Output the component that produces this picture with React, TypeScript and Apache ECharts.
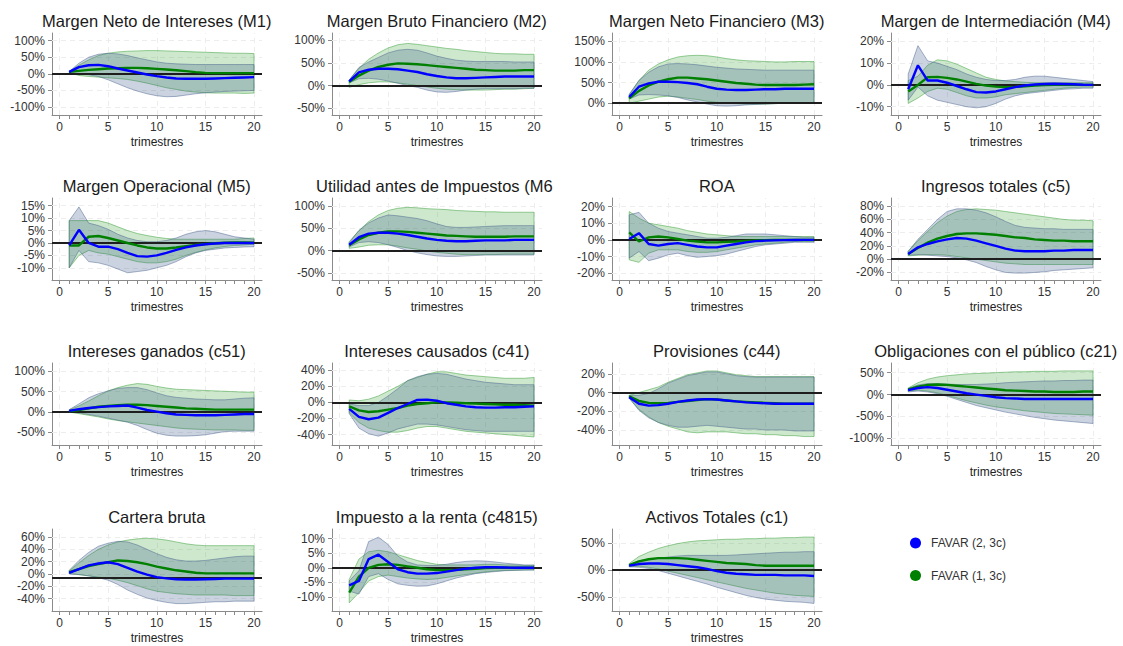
import React, { useEffect, useRef } from "react";
import * as echarts from "echarts";

// ---------- axes ----------
const quarters = [1, 2, 3, 4, 5, 6, 7, 8, 9, 10, 11, 12, 13, 14, 15, 16, 17, 18, 19, 20];
const xTickValues = [0, 1, 2, 3, 4, 5, 6, 7, 8, 9, 10, 11, 12, 13, 14, 15, 16, 17, 18, 19, 20];
const xLabelValues = [0, 5, 10, 15, 20];

// ---------- data (b = FAVAR (2, 3c), g = FAVAR (1, 3c); L/H = band bounds) ----------
// Margen Neto de Intereses (M1)
const m1B = [6, 20, 26, 27, 23, 16, 10, 4, -2, -7, -11, -14, -15, -15, -15, -14, -13, -12, -11, -10];
const m1BL = [4, 0, -3, -8, -18, -30, -42, -52, -60, -66, -69, -68, -64, -60, -57, -55, -53, -52, -51, -50];
const m1BH = [7, 32, 50, 59, 62, 60, 55, 48, 42, 36, 32, 30, 29, 28, 28, 28, 28, 28, 28, 28];
const m1G = [6, 9, 12, 14, 16, 17, 18, 18, 17, 15, 13, 11, 8, 5, 3, 2, 2, 2, 2, 2];
const m1GL = [4, -5, -8, -10, -12, -14, -17, -22, -28, -35, -42, -47, -52, -55, -57, -58, -58, -58, -59, -58];
const m1GH = [7, 26, 42, 55, 62, 66, 68, 69, 70, 70, 69, 68, 67, 66, 65, 64, 63, 62, 62, 61];
// Margen Bruto Financiero (M2)
const m2B = [9, 29, 35, 37, 37, 36, 33, 30, 25, 21, 18, 16, 16, 17, 18, 19, 20, 20, 20, 20];
const m2BL = [6, 15, 16, 14, 10, 5, 0, -4, -10, -14, -15, -13, -10, -8, -7, -7, -7, -7, -6, -6];
const m2BH = [12, 40, 52, 62, 72, 78, 80, 78, 72, 65, 60, 56, 54, 53, 53, 53, 53, 52, 52, 52];
const m2G = [8, 22, 33, 41, 46, 49, 48, 47, 45, 43, 41, 39, 37, 35, 34, 33, 33, 33, 34, 34];
const m2GL = [-4, 2, 6, 8, 8, 6, 3, 0, -3, -6, -8, -9, -10, -10, -10, -9, -8, -8, -7, -6];
const m2GH = [12, 38, 58, 72, 83, 90, 93, 91, 88, 85, 82, 80, 77, 75, 73, 71, 70, 70, 69, 69];
// Margen Neto Financiero (M3)
const m3B = [15, 40, 48, 52, 52, 51, 49, 46, 40, 35, 33, 32, 32, 33, 34, 34, 35, 35, 35, 35];
const m3BL = [10, 20, 21, 20, 18, 14, 8, 3, -2, -6, -7, -6, -4, -3, -2, -1, 0, 1, 1, 2];
const m3BH = [22, 55, 75, 88, 95, 96, 95, 93, 90, 87, 85, 83, 82, 81, 80, 80, 80, 80, 80, 80];
const m3G = [12, 30, 43, 52, 58, 62, 62, 60, 58, 55, 52, 49, 47, 45, 44, 44, 44, 44, 45, 46];
const m3GL = [0, 5, 10, 15, 17, 15, 12, 9, 5, 2, 0, -1, -2, -2, -2, -1, 0, 0, 0, 0];
const m3GH = [20, 55, 80, 95, 105, 112, 115, 116, 115, 112, 108, 105, 103, 102, 101, 100, 100, 101, 101, 101];
// Margen de Intermediación (M4)
const m4B = [-2, 9, 2, 2, 1, -0.5, -2, -3.3, -3.5, -3, -2, -1, -0.3, 0.2, 0.4, 0.5, 0.4, 0.3, 0.1, 0];
const m4BL = [-7, -1, -5, -7, -8, -9, -10, -10.5, -10, -8.5, -6.5, -5, -4, -3.5, -3, -2.5, -2, -1.8, -1.5, -1.5];
const m4BH = [5, 18, 11, 10, 8.5, 7, 5, 3.5, 2.5, 2, 2, 2.5, 3.5, 4, 4, 3.5, 3, 2.5, 2, 1.5];
const m4G = [-3, 0, 3.5, 3.7, 3.2, 2.5, 1.5, 0.5, -0.3, -0.8, -1, -0.9, -0.6, -0.3, -0.1, 0, 0, 0, 0, 0];
const m4GL = [-8.5, -6, -3, -1.5, -2, -3.5, -5, -6, -6, -5.5, -4.5, -4, -3.5, -3, -2.5, -2, -1.5, -1.2, -1, -1];
const m4GH = [2, 4, 9, 11.5, 11, 9.5, 7.5, 5.5, 3.5, 2.5, 1.8, 1.5, 1.2, 1, 1, 1, 1, 1, 1, 1];
// Margen Operacional (M5)
const m5B = [-1, 5.3, 0, -1.5, -1.5, -2.5, -4, -5.3, -5.5, -5, -4, -2.8, -1.8, -1, -0.5, -0.2, 0, 0, 0, 0];
const m5BL = [-10, -3, -7.5, -8, -9, -10.5, -12, -11.5, -11, -10, -9, -7.5, -5.5, -4, -3, -2.5, -2, -1.8, -1.6, -1.5];
const m5BH = [9, 14.5, 8, 7, 5.5, 3.5, 2, 1, 0.5, 0.5, 1, 2, 3.5, 4.5, 5, 4.5, 3.5, 2.5, 2, 1.5];
const m5G = [-1, -1, 2.5, 2.8, 2, 1, 0, -1, -1.8, -2.2, -2.2, -1.8, -1.3, -0.8, -0.4, -0.1, 0.1, 0.2, 0.2, 0.1];
const m5GL = [-10, -5, -3, -4, -4.5, -5.5, -6.5, -7.5, -8, -8, -7.5, -6.5, -5, -3.8, -2.8, -2, -1.4, -1, -0.8, -0.5];
const m5GH = [9, 9, 9, 9, 8, 6.5, 5, 3.8, 3, 2.3, 1.8, 1.5, 1.5, 1.5, 1.5, 1.5, 1.5, 1.5, 1.8, 2];
// Utilidad antes de Impuestos (M6)
const m6B = [13, 30, 38, 40, 40, 38, 35, 31, 27, 24, 22, 21, 21, 22, 23, 23, 23, 24, 24, 24];
const m6BL = [8, 18, 20, 18, 13, 7, 0, -5, -9, -12, -13, -13, -12, -11, -10, -10, -10, -10, -10, -10];
const m6BH = [18, 45, 62, 73, 80, 78, 75, 72, 67, 60, 54, 52, 52, 53, 54, 55, 56, 56, 56, 56];
const m6G = [12, 25, 35, 40, 43, 43, 42, 40, 38, 36, 34, 33, 32, 31, 31, 31, 31, 32, 32, 32];
const m6GL = [5, 8, 12, 13, 13, 10, 6, 3, -1, -4, -6, -8, -9, -9, -9, -9, -8, -8, -8, -8];
const m6GH = [20, 45, 65, 80, 90, 95, 97, 96, 94, 93, 92, 90, 89, 88, 87, 87, 86, 86, 86, 86];
// ROA
const roaB = [0.5, 4, -2.5, -3.5, -2.5, -2, -3, -4, -4.5, -4.5, -3.5, -2.5, -1.5, -0.8, -0.5, -0.3, -0.2, -0.1, 0, 0];
const roaBL = [-11, -7, -12.5, -11, -9, -8, -9.5, -10.5, -10, -9.5, -8.5, -7, -5.5, -4, -3, -2.5, -2, -1.5, -1.5, -1.5];
const roaBH = [15, 16.5, 10, 7, 5, 4, 3, 2, 1, 1, 1.5, 2.5, 3.5, 3.5, 3.5, 3, 2.5, 2, 1.5, 1.5];
const roaG = [4.5, -1, 1.5, 2, 1.5, 0.5, -0.5, -1, -1.5, -1.5, -1.2, -1, -0.7, -0.4, -0.2, 0, 0, 0, 0, 0];
const roaGL = [-12, -13.5, -8, -6, -6, -6, -7, -7.5, -7.5, -7, -6, -5, -4, -3, -2.5, -2, -1.5, -1, -1, -1];
const roaGH = [17, 13, 10, 9, 8, 7, 5.5, 4.5, 3.5, 3, 2.5, 2, 2, 2, 2, 2, 2, 2, 2, 2];
// Ingresos totales (c5)
const c5B = [8, 18, 23, 27, 30, 32, 31, 28, 24, 20, 16, 13, 12, 12, 12, 13, 13, 14, 14, 14];
const c5BL = [6, 7, 6, 5, 4, 2, -1, -5, -11, -16, -20, -21, -21, -20, -19, -17, -16, -15, -14, -13];
const c5BH = [12, 30, 45, 60, 72, 76, 76, 74, 70, 64, 57, 51, 48, 47, 46, 46, 45, 45, 45, 45];
const c5G = [8, 17, 25, 31, 35, 38, 39, 39, 38, 37, 35, 33, 32, 30, 29, 28, 28, 27, 27, 27];
const c5GL = [5, 6, 7, 7, 6, 4, 2, 0, -2, -4, -6, -7, -8, -8, -8, -8, -8, -8, -8, -8];
const c5GH = [12, 28, 42, 55, 65, 72, 75, 76, 75, 74, 72, 70, 68, 66, 64, 62, 60, 59, 59, 58];
// Intereses ganados (c51)
const c51B = [3, 7, 10, 12, 14, 15, 16, 11, 5, 1, -3, -6, -7, -8, -8, -8, -7, -6, -5, -5];
const c51BL = [1, -2, -6, -10, -15, -20, -25, -33, -43, -52, -57, -59, -59, -58, -56, -52, -48, -47, -47, -47];
const c51BH = [6, 20, 35, 45, 52, 58, 60, 60, 55, 47, 40, 36, 34, 32, 31, 30, 30, 32, 34, 35];
const c51G = [2, 5, 9, 13, 15, 17, 18, 18, 17, 15, 13, 11, 9, 8, 7, 6, 6, 6, 6, 6];
const c51GL = [0, -4, -8, -12, -17, -21, -24, -27, -30, -33, -36, -39, -41, -42, -43, -44, -44, -44, -45, -45];
const c51GH = [5, 15, 27, 40, 52, 60, 66, 70, 68, 63, 59, 56, 55, 54, 53, 52, 51, 50, 49, 49];
// Intereses causados (c41)
const c41B = [-8, -18, -21, -19, -13, -7, -2, 3, 3.5, 2, -1, -3, -5, -6, -6.5, -6.5, -6, -6, -5.5, -5];
const c41BL = [-14, -32, -39, -42, -38, -33, -30, -27, -27, -28, -30, -32, -34, -35, -36, -36, -36, -36, -36, -36];
const c41BH = [-2, -4, -4, 0, 8, 17, 27, 32, 35, 36, 35, 32, 29, 27, 25, 24, 23, 22, 22, 22];
const c41G = [-5, -10, -12, -11, -9, -7, -4, -2, -1, 0, 0, -0.5, -1, -1.5, -2, -2.5, -3, -3, -3.5, -4];
const c41GL = [-13, -25, -32, -35, -37, -37, -35, -32, -30, -30, -32, -34, -36, -37, -38, -39, -40, -41, -42, -43];
const c41GH = [3, 2, 4, 8, 14, 20, 27, 31, 35, 38, 38, 36, 34, 33, 32, 31, 30, 30, 30, 31];
// Provisiones (c44)
const c44B = [-5, -12, -14, -13.5, -12, -10, -8.5, -7.5, -7, -7.5, -8.5, -9.5, -10.5, -11, -11.5, -12, -12, -12, -12, -12];
const c44BL = [-6, -19, -27, -32, -35, -37, -37, -36, -35, -36, -37, -38, -39, -39, -40, -40, -40, -41, -41, -41];
const c44BH = [-3, -3, -1, 4, 10, 14, 18, 20, 22, 22, 20, 18, 17, 16.5, 16.5, 16.5, 16.5, 16.5, 16.5, 16.5];
const c44G = [-4, -9, -11, -11.5, -11, -10, -9, -8, -7, -7.5, -8.5, -9.5, -10, -10.5, -11, -11.5, -12, -12, -12, -12];
const c44GL = [-6, -18, -26, -32, -36, -39, -42, -43, -42, -42, -42, -43, -44, -44, -45, -45, -46, -46, -47, -47];
const c44GH = [-3, 0, 3, 6, 11, 15, 19, 21, 23, 23, 21, 19, 18, 17, 17, 17, 17, 17, 17, 17];
// Obligaciones con el público (c21)
const c21B = [10, 15, 17, 15, 11, 7, 3, 0, -3, -6, -8, -9, -10, -10, -10, -10, -10, -10, -10, -10];
const c21BL = [6, 8, 6, 2, -4, -11, -18, -25, -30, -35, -40, -44, -48, -52, -55, -58, -60, -62, -64, -66];
const c21BH = [14, 22, 25, 25, 24, 23, 23, 23, 24, 25, 27, 28, 29, 30, 31, 31, 32, 32, 33, 33];
const c21G = [12, 18, 22, 23, 22, 20, 18, 16, 14, 12, 10, 9, 8, 7, 7, 6, 6, 6, 7, 7];
const c21GL = [8, 10, 8, 4, -2, -8, -14, -19, -24, -28, -31, -34, -37, -39, -41, -43, -44, -45, -46, -47];
const c21GH = [15, 27, 35, 40, 43, 45, 47, 48, 49, 50, 51, 52, 52, 53, 53, 53, 54, 54, 54, 54];
// Cartera bruta
const cbB = [2, 8, 14, 17, 19, 16, 10, 4, -1, -5, -7, -8.5, -9, -9, -8.5, -8, -7.5, -7.5, -7.5, -7.5];
const cbBL = [0, -1, -3, -6, -10, -17, -26, -33, -39, -43, -46, -48, -48, -47, -46, -45, -45, -44, -44, -44];
const cbBH = [6, 22, 35, 45, 50, 53, 52, 47, 40, 33, 27, 23, 21, 21, 22, 24, 26, 28, 29, 29];
const cbG = [3, 8, 13, 16, 19, 22, 21, 19, 16, 12, 9, 6, 4, 2, 1, 1, 1, 1, 1, 1];
const cbGL = [1, -1, -3, -5, -7, -10, -14, -19, -24, -28, -30, -32, -33, -34, -34, -34, -34, -35, -35, -35];
const cbGH = [5, 18, 30, 40, 47, 52, 55, 57, 58, 57, 55, 52, 49, 47, 46, 46, 46, 46, 46, 46];
// Impuesto a la renta (c4815)
const irB = [-6, -4.5, 3, 4.5, 2, -0.5, -1.5, -2, -2, -1.8, -1.3, -0.8, -0.3, 0, 0.2, 0.2, 0.1, 0, 0, 0];
const irBL = [-8, -9, -3, -2, -4, -5.5, -6, -6.3, -6.2, -5.5, -4.5, -3.5, -2.7, -2, -1.6, -1.3, -1, -0.9, -0.8, -0.8];
const irBH = [-4.5, -1, 9, 10.5, 8, 4, 2, 1, 0.8, 0.8, 1.2, 1.8, 2.2, 2.4, 2.3, 2, 1.6, 1.3, 1, 1];
const irG = [-8.5, -3, 0, 1, 1.2, 1, 0.5, 0, -0.5, -0.8, -0.8, -0.7, -0.5, -0.3, -0.1, 0, 0, 0, 0, 0];
const irGL = [-12, -8.5, -4.5, -3, -2.5, -3, -3.5, -3.8, -4, -3.8, -3.3, -2.8, -2.3, -1.8, -1.4, -1.1, -0.9, -0.8, -0.7, -0.6];
const irGH = [-4, 3, 5.5, 6, 5.5, 4.5, 3.5, 2.5, 1.8, 1.2, 1, 1, 1, 1, 1.2, 1.2, 1, 1, 0.8, 0.8];
// Activos Totales (c1)
const c1B = [8, 11, 12, 12, 11, 9, 7, 5, 2, -2, -5, -7, -8, -9, -9, -9, -10, -10, -10, -11];
const c1BL = [6, 5, 3, -1, -6, -11, -16, -21, -26, -32, -37, -42, -47, -51, -54, -56, -58, -59, -60, -62];
const c1BH = [10, 17, 20, 22, 24, 26, 27, 27, 27, 27, 27, 28, 29, 30, 31, 32, 33, 33, 34, 34];
const c1G = [9, 16, 20, 22, 22, 22, 21, 19, 17, 15, 13, 12, 11, 9, 8, 8, 8, 8, 8, 8];
const c1GL = [6, 7, 5, 2, -2, -6, -10, -14, -18, -22, -26, -30, -34, -37, -40, -43, -45, -47, -48, -49];
const c1GH = [12, 25, 33, 40, 45, 49, 52, 54, 55, 56, 57, 57, 58, 58, 59, 59, 60, 60, 61, 61];

const legendNames = ["FAVAR (2, 3c)", "FAVAR (1, 3c)"];

type Panel = {
  title: string;
  b: number[]; bL: number[]; bH: number[];
  g: number[]; gL: number[]; gH: number[];
  yMin: number; yMax: number; yTicks: number[]; refLine: number;
};

const panels: Panel[] = [
  { title: "Margen Neto de Intereses (M1)", b: m1B, bL: m1BL, bH: m1BH, g: m1G, gL: m1GL, gH: m1GH, yMin: -124, yMax: 123, yTicks: [-100, -50, 0, 50, 100], refLine: 0 },
  { title: "Margen Bruto Financiero (M2)", b: m2B, bL: m2BL, bH: m2BH, g: m2G, gL: m2GL, gH: m2GH, yMin: -65, yMax: 116, yTicks: [-50, 0, 50, 100], refLine: 0 },
  { title: "Margen Neto Financiero (M3)", b: m3B, bL: m3BL, bH: m3BH, g: m3G, gL: m3GL, gH: m3GH, yMin: -28.5, yMax: 170, yTicks: [0, 50, 100, 150], refLine: 0 },
  { title: "Margen de Intermediación (M4)", b: m4B, bL: m4BL, bH: m4BH, g: m4G, gL: m4GL, gH: m4GH, yMin: -13.8, yMax: 23.8, yTicks: [-10, 0, 10, 20], refLine: 0 },
  { title: "Margen Operacional (M5)", b: m5B, bL: m5BL, bH: m5BH, g: m5G, gL: m5GL, gH: m5GH, yMin: -14.9, yMax: 18.1, yTicks: [-10, -5, 0, 5, 10, 15], refLine: 0 },
  { title: "Utilidad antes de Impuestos (M6", b: m6B, bL: m6BL, bH: m6BH, g: m6G, gL: m6GL, gH: m6GH, yMin: -66, yMax: 118, yTicks: [-50, 0, 50, 100], refLine: 0 },
  { title: "ROA", b: roaB, bL: roaBL, bH: roaBH, g: roaG, gL: roaGL, gH: roaGH, yMin: -24.1, yMax: 25.1, yTicks: [-20, -10, 0, 10, 20], refLine: 0 },
  { title: "Ingresos totales (c5)", b: c5B, bL: c5BL, bH: c5BH, g: c5G, gL: c5GL, gH: c5GH, yMin: -31.4, yMax: 92.4, yTicks: [-20, 0, 20, 40, 60, 80], refLine: 0 },
  { title: "Intereses ganados (c51)", b: c51B, bL: c51BL, bH: c51BH, g: c51G, gL: c51GL, gH: c51GH, yMin: -81, yMax: 120.5, yTicks: [-50, 0, 50, 100], refLine: 0 },
  { title: "Intereses causados (c41)", b: c41B, bL: c41BL, bH: c41BH, g: c41G, gL: c41GL, gH: c41GH, yMin: -53, yMax: 49, yTicks: [-40, -20, 0, 20, 40], refLine: 0 },
  { title: "Provisiones (c44)", b: c44B, bL: c44BL, bH: c44BH, g: c44G, gL: c44GL, gH: c44GH, yMin: -56, yMax: 31.5, yTicks: [-40, -20, 0, 20], refLine: 0 },
  { title: "Obligaciones con el público (c21)", b: c21B, bL: c21BL, bH: c21BH, g: c21G, gL: c21GL, gH: c21GH, yMin: -115, yMax: 72, yTicks: [-100, -50, 0, 50], refLine: 0 },
  { title: "Cartera bruta", b: cbB, bL: cbBL, bH: cbBH, g: cbG, gL: cbGL, gH: cbGH, yMin: -60, yMax: 73, yTicks: [-40, -20, 0, 20, 40, 60], refLine: -6 },
  { title: "Impuesto a la renta (c4815)", b: irB, bL: irBL, bH: irBH, g: irG, gL: irGL, gH: irGH, yMin: -14.8, yMax: 13.3, yTicks: [-10, -5, 0, 5, 10], refLine: 0 },
  { title: "Activos Totales (c1)", b: c1B, bL: c1BL, bH: c1BH, g: c1G, gL: c1GL, gH: c1GH, yMin: -76, yMax: 76, yTicks: [-50, 0, 50], refLine: 0 },
];

// ---------- layout & style ----------
const FONT = '"Liberation Sans", Arial, Helvetica, sans-serif';
const COL_LEFT = [52, 332, 612, 891];
const ROW_TOP = [33, 198, 363, 529];
const PLOT_W = 210;
const PLOT_H = 82;
const X_MIN = -0.77;
const X_MAX = 20.82;
const AXIS_COLOR = "#8a8a8a";
const BLUE = "#0000ff";
const GREEN = "#008000";
const BLUE_FILL = "rgba(52, 84, 132, 0.26)";
const GREEN_FILL = "rgba(44, 160, 44, 0.24)";
const BLUE_EDGE = "rgba(70, 95, 140, 0.6)";
const GREEN_EDGE = "rgba(60, 160, 60, 0.65)";

function bandSeries(i: number, lo: number[], hi: number[], fill: string, edge: string, z: number) {
  return {
    type: "custom",
    xAxisIndex: i,
    yAxisIndex: i,
    silent: true,
    z,
    clip: true,
    data: quarters.map((q, k) => [q, lo[k], hi[k]]),
    encode: { x: 0, y: [1, 2] },
    renderItem: (params: any, api: any) => {
      if (params.dataIndex !== 0) return null;
      const upper = quarters.map((q, k) => api.coord([q, hi[k]]));
      const lower = quarters.map((q, k) => api.coord([q, lo[k]])).reverse();
      return {
        type: "polygon",
        shape: { points: upper.concat(lower) },
        style: { fill, stroke: edge, lineWidth: 0.8 },
      };
    },
  };
}

function buildOption() {
  const grid: any[] = [];
  const xAxis: any[] = [];
  const yAxis: any[] = [];
  const series: any[] = [];
  const graphic: any[] = [];

  const pts = (arr: number[]) => quarters.map((q, k) => [q, arr[k]]);

  panels.forEach((p, i) => {
    const col = i % 4;
    const row = Math.floor(i / 4);
    const left = COL_LEFT[col];
    const top = ROW_TOP[row];
    grid.push({ left, top, width: PLOT_W, height: PLOT_H, containLabel: false });

    xAxis.push({
      type: "value",
      gridIndex: i,
      min: X_MIN,
      max: X_MAX,
      name: "trimestres",
      nameLocation: "middle",
      nameGap: 21,
      nameTextStyle: { fontSize: 12, color: "#222", fontFamily: FONT },
      axisLine: { show: true, onZero: false, lineStyle: { color: AXIS_COLOR, width: 1 } },
      axisTick: { show: true, customValues: xTickValues, length: 4, lineStyle: { color: AXIS_COLOR, width: 1 } },
      axisLabel: { show: true, customValues: xLabelValues, margin: 6, fontSize: 12, color: "#333", fontFamily: FONT },
      splitLine: { show: false },
    });
    yAxis.push({
      type: "value",
      gridIndex: i,
      min: p.yMin,
      max: p.yMax,
      axisLine: { show: true, onZero: false, lineStyle: { color: AXIS_COLOR, width: 1 } },
      axisTick: { show: true, customValues: p.yTicks, length: 4, lineStyle: { color: AXIS_COLOR, width: 1 } },
      axisLabel: {
        show: true,
        customValues: p.yTicks,
        margin: 7,
        fontSize: 12,
        color: "#333",
        fontFamily: FONT,
        formatter: (v: number) => `${v}%`,
      },
      splitLine: { show: false },
    });

    const common = {
      type: "line",
      xAxisIndex: i,
      yAxisIndex: i,
      showSymbol: false,
      symbol: "none",
      silent: true,
    };
    const gridLineStyle = { color: "#ededed", width: 1, type: [5, 4] };

    // bands (green first, blue over it)
    series.push(bandSeries(i, p.gL, p.gH, GREEN_FILL, GREEN_EDGE, 2));
    series.push(bandSeries(i, p.bL, p.bH, BLUE_FILL, BLUE_EDGE, 3));

    // lines
    series.push({
      ...common,
      name: legendNames[1],
      data: pts(p.g),
      z: 6,
      lineStyle: { color: GREEN, width: 2.4 },
      itemStyle: { color: GREEN },
      markLine: {
        silent: true,
        symbol: "none",
        z: 1,
        animation: false,
        label: { show: false },
        lineStyle: gridLineStyle,
        data: [
          ...p.yTicks.map((v) => ({ yAxis: v })),
          ...xLabelValues.map((v) => ({ xAxis: v })),
        ],
      },
    });
    series.push({
      ...common,
      name: legendNames[0],
      data: pts(p.b),
      z: 7,
      lineStyle: { color: BLUE, width: 2.4 },
      itemStyle: { color: BLUE },
      markLine: {
        silent: true,
        symbol: "none",
        z: 5,
        animation: false,
        label: { show: false },
        lineStyle: { color: "#1e1e1e", width: 1.8, type: "solid" },
        data: [{ yAxis: p.refLine }],
      },
    });

    // title, centred on the plot area
    const centerX = left + ((10 - X_MIN) / (X_MAX - X_MIN)) * PLOT_W;
    const clipped = p.title.endsWith("(M6");
    graphic.push({
      type: "text",
      x: clipped ? left - 16 : centerX,
      y: top - 12.5,
      silent: true,
      style: {
        text: p.title,
        fill: "#1a1a1a",
        fontSize: 16.5,
        fontFamily: FONT,
        align: clipped ? "left" : "center",
        verticalAlign: "middle",
      },
    });
  });

  // legend
  const legendColors = [BLUE, GREEN];
  legendNames.forEach((name, k) => {
    const y = 543 + k * 32.5;
    graphic.push({
      type: "circle",
      silent: true,
      shape: { cx: 915.5, cy: y, r: 5.5 },
      style: { fill: legendColors[k] },
    });
    graphic.push({
      type: "text",
      x: 931,
      y,
      silent: true,
      style: {
        text: name,
        fill: "#333",
        fontSize: 12,
        fontFamily: FONT,
        align: "left",
        verticalAlign: "middle",
      },
    });
  });

  return {
    animation: false,
    backgroundColor: "#ffffff",
    grid,
    xAxis,
    yAxis,
    series,
    graphic,
  };
}

export default function App() {
  const ref = useRef<HTMLDivElement>(null);
  useEffect(() => {
    document.body.style.margin = "0";
    if (!ref.current) return;
    const chart = echarts.init(ref.current, null, { renderer: "svg" });
    chart.setOption(buildOption());
    return () => chart.dispose();
  }, []);
  return <div ref={ref} style={{ width: 1123, height: 646, background: "#fff" }} />;
}
